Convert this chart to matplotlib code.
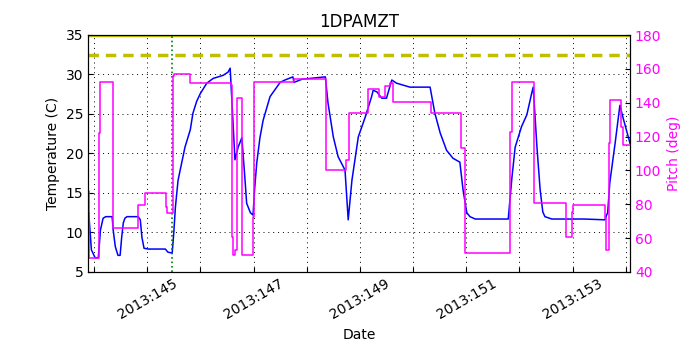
import matplotlib
matplotlib.use('Agg')
import matplotlib.pyplot as plt
from matplotlib.ticker import MultipleLocator, FuncFormatter

# temperature trace (day of 2013, deg C)
temp_day = [143.90, 143.95, 144.02, 144.08, 144.10, 144.12, 144.17, 144.22, 144.27, 144.34, 144.36, 144.40,
            144.45, 144.49, 144.52, 144.55, 144.58, 144.62, 144.83, 144.87, 144.90, 144.94, 145.02,
            145.34, 145.39, 145.47, 145.50, 145.53, 145.58, 145.62, 145.71, 145.81, 145.86, 145.93, 146.00,
            146.12, 146.24, 146.43, 146.52, 146.56, 146.59, 146.65, 146.71, 146.78, 146.84,
            146.87, 146.94, 146.99, 147.02, 147.06, 147.12, 147.18, 147.31, 147.50, 147.59, 147.74, 147.76,
            147.91, 148.35, 148.40, 148.50, 148.59, 148.72, 148.78, 148.85, 148.97, 149.10,
            149.22, 149.25, 149.32, 149.41, 149.50, 149.60, 149.69, 149.94, 150.32, 150.41,
            150.51, 150.63, 150.75, 150.88, 150.94, 151.01, 151.07, 151.17, 151.79, 151.86,
            151.92, 152.04, 152.14, 152.23, 152.26, 152.33, 152.39, 152.44, 152.48, 152.61, 153.22,
            153.61, 153.64, 153.66, 153.70, 153.80, 153.89, 153.95, 154.08]
temp_val = [12.5, 7.8, 6.8, 6.8, 8.5, 10.3, 11.8, 12.0, 12.0, 12.0, 10.3, 8.2,
            7.1, 7.1, 9.4, 11.2, 11.8, 12.0, 12.0, 11.6, 9.4, 8.0, 7.9,
            7.9, 7.5, 7.4, 10.0, 13.2, 16.6, 17.9, 20.8, 23.0, 25.1, 26.6, 27.6,
            28.9, 29.5, 29.9, 30.3, 30.8, 27.0, 19.2, 20.8, 22.0, 16.6,
            13.7, 12.5, 12.2, 15.5, 18.8, 22.0, 24.2, 27.2, 29.0, 29.3, 29.7, 29.0,
            29.4, 29.7, 26.4, 22.1, 19.6, 17.9, 11.6, 16.6, 22.1, 24.6,
            27.2, 28.0, 27.8, 27.0, 27.0, 29.3, 28.9, 28.4, 28.4, 25.1,
            22.6, 20.4, 19.4, 18.9, 15.4, 12.5, 12.0, 11.7, 11.7, 17.0,
            20.8, 23.4, 24.9, 27.6, 28.4, 20.8, 15.4, 12.6, 12.0, 11.7, 11.7,
            11.6, 12.2, 12.5, 16.3, 21.3, 26.1, 24.5, 21.3]

# pitch steps (start day, deg)
pitch_day = [143.89, 143.91, 144.10, 144.12, 144.35, 144.83, 144.96, 145.35, 145.37, 145.48,
             145.50, 145.81, 146.58, 146.59, 146.61, 146.66, 146.69, 146.79, 146.99, 147.00,
             147.76, 148.36, 148.73, 148.80, 149.15, 149.35, 149.47, 149.57, 149.62, 149.63,
             150.34, 150.90, 150.98, 151.82, 151.86, 152.27, 152.88, 152.99, 153.01, 153.61,
             153.62, 153.69, 153.70, 153.92, 153.94, 154.08]
pitch_val = [88.0, 48.3, 122.0, 152.0, 66.0, 79.6, 86.7, 78.4, 74.8, 156.0,
             157.0, 151.6, 150.5, 60.7, 50.0, 53.0, 142.8, 50.0, 72.5, 152.5,
             154.0, 100.2, 106.2, 133.9, 148.1, 143.4, 149.9, 151.6, 143.4, 140.4,
             133.9, 113.2, 51.2, 122.7, 152.2, 80.8, 60.7, 75.4, 79.6, 71.9,
             53.0, 116.2, 141.6, 125.6, 115.0, 115.0]

planning_limit = 32.5
top_limit = 35.0
event_day = 145.47

fig = plt.figure(figsize=(7, 3.5), dpi=100)
ax = fig.add_axes([0.126, 0.223, 0.774, 0.677])
ax.plot(temp_day, temp_val, color='#0000ff', lw=1.1)
ax.axhline(planning_limit, color='#bfbf00', ls='--', lw=2.5, dashes=(3, 2))
ax.axhline(top_limit, color='#bfbf00', lw=2.5)
ax.axvline(event_day, color='g', ls=':', lw=1.2)
ax.set_xlim(143.89, 154.08)
ax.set_ylim(5, 35)
ax.yaxis.set_major_locator(MultipleLocator(5))
ax.xaxis.set_major_locator(MultipleLocator(1))
ax.xaxis.set_major_formatter(FuncFormatter(
    lambda d, p: '2013:%03d' % int(round(d)) if int(round(d)) % 2 == 1 else ''))
ax.grid(True, color='k', ls=':', lw=0.7, dashes=(1, 4))
ax.tick_params(direction='in', top=False, labelsize=10)
for lbl in ax.get_xticklabels():
    lbl.set_rotation(30)
    lbl.set_ha('center')
ax.set_ylabel('Temperature (C)', fontsize=10)
ax.set_xlabel('Date', fontsize=10)
ax.set_title('1DPAMZT', fontsize=12)

ax2 = ax.twinx()
ax2.plot(pitch_day, pitch_val, color='#ff00ff', lw=1.1, drawstyle='steps-post')
ax2.set_ylim(40, 180)
ax2.yaxis.set_major_locator(MultipleLocator(20))
ax2.tick_params(direction='in', labelsize=10, labelcolor='#ff00ff')
ax2.set_ylabel('Pitch (deg)', color='#ff00ff', fontsize=10)
ax2.set_xlim(143.89, 154.08)

fig.savefig('out.png', dpi=100)
